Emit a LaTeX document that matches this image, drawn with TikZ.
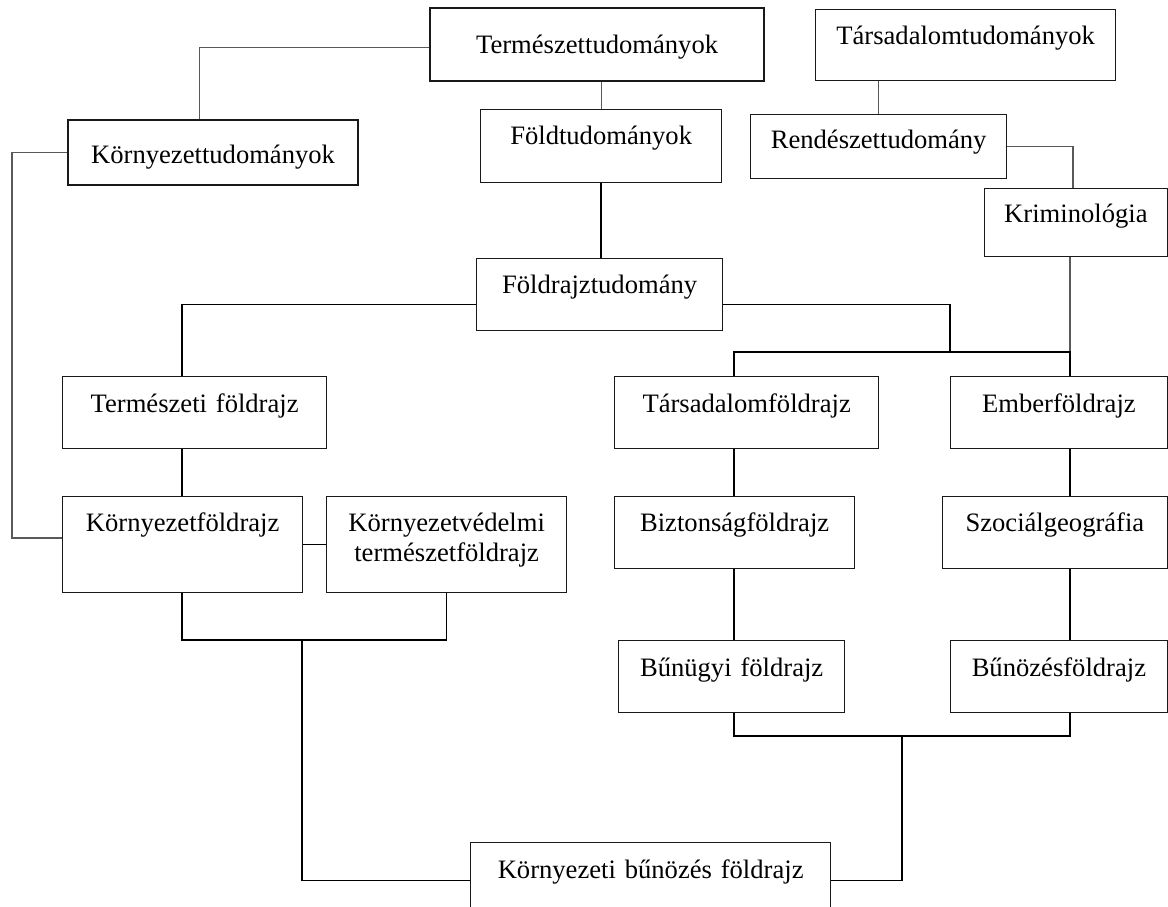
\documentclass[tikz,border=0pt]{standalone}
\usepackage{fontspec}
\setmainfont{Liberation Serif}
\begin{document}
\begin{tikzpicture}[x=1pt,y=-1pt,
  box/.style={draw=black!90, line width=1.3pt, inner sep=0pt, anchor=north west, align=center,
    font=\fontsize{26.6}{30}\selectfont},
  thickbox/.style={box, line width=2.2pt},
  line/.style={draw=black, line width=1.5pt},
  gline/.style={draw=black!65, line width=1.2pt}]
\clip (0,0) rectangle (1168,906);
\fill[white] (0,0) rectangle (1168,906);

\node[thickbox, text width=334pt, text height=45pt, text depth=28pt] (nat) at (429,7) {Természettudományok};
\node[box, text width=300pt, text height=35pt, text depth=36pt] (soc) at (815,9) {Társadalomtudományok};
\node[thickbox, text width=290pt, text height=43pt, text depth=22pt] (env) at (67,119) {Környezettudományok};
\node[box, text width=241pt, text height=35pt, text depth=38pt] (earth) at (480,109) {Földtudományok};
\node[box, text width=256pt, text height=34pt, text depth=30pt] (pol) at (750,114) {Rendészettudomány};
\node[box, text width=182.5pt, text height=34pt, text depth=34pt] (krim) at (984,188) {Kriminológia};
\node[box, text width=246pt, text height=35pt, text depth=37pt] (geo) at (476,258) {Földrajztudomány};
\node[box, text width=264pt, text height=36pt, text depth=36pt] (phys) at (62,376) {Természeti földrajz};
\node[box, text width=264pt, text height=36pt, text depth=36pt] (socg) at (614,376) {Társadalomföldrajz};
\node[box, text width=216.5pt, text height=36pt, text depth=36pt] (hum) at (950,376) {Emberföldrajz};
\node[box, text width=240pt, text height=35pt, text depth=61pt] (envg) at (62,496) {Környezetföldrajz};
\node[box, text width=240pt, text height=35pt, text depth=61pt] (envp) at (326,496) {Környezetvédelmi\\természetföldrajz};
\node[box, text width=240pt, text height=35pt, text depth=37pt] (sec) at (614,496) {Biztonságföldrajz};
\node[box, text width=224.5pt, text height=35pt, text depth=37pt] (socio) at (942,496) {Szociálgeográfia};
\node[box, text width=226pt, text height=36pt, text depth=36pt] (crim) at (618,640) {Bűnügyi földrajz};
\node[box, text width=216.5pt, text height=36pt, text depth=36pt] (crimg) at (950,640) {Bűnözésföldrajz};
\node[box, text width=360pt, text height=36pt, text depth=40pt] (final) at (470,842) {Környezeti bűnözés földrajz};

\coordinate (xl) at (182,0);
\coordinate (lk) at (12,538);
\coordinate (bL) at (734,352);
\coordinate (bR) at (1070,352);
\coordinate (bM) at (950,352);
\coordinate (j1) at (302,640);
\coordinate (j2) at (902,736);

% grey connectors
\draw[gline] ([yshift=-2.5pt]nat.west) -| ([xshift=-14pt]env.north);
\draw[gline] (env.west) -| (lk) -- (lk -| envg.west);
\draw[gline] (earth.north) -- (earth.north |- nat.south);
\draw[gline] (pol.north) -- (pol.north |- soc.south);
\draw[gline] (pol.east) -| ([xshift=-3pt]krim.north);
\draw[gline] (krim.south -| bR) -- (bR);

% black connectors
\draw[line] (earth.south) -- (earth.south |- geo.north);
\draw[line] ([yshift=-10pt]geo.east) -| (bM);
\draw[line] (socg.north -| bL) -- (bL) -- (bR) -- (hum.north -| bR);
\draw[line] ([yshift=-10pt]geo.west) -| (phys.north -| xl);
\draw[line] (phys.south -| xl) -- (envg.north -| xl);
\draw[line] (envg.east) -- (envp.west);
\draw[line] (envg.south -| xl) |- (j1) -| (envp.south);
\draw[line] (j1) |- (final.west);
\draw[line] (socg.south -| bL) -- (sec.north -| bL);
\draw[line] (hum.south -| bR) -- (socio.north -| bR);
\draw[line] (sec.south -| bL) -- (crim.north -| bL);
\draw[line] (socio.south -| bR) -- (crimg.north -| bR);
\draw[line] (crim.south -| bL) |- (j2) -- (j2 -| bR) -- (crimg.south -| bR);
\draw[line] (j2) |- (final.east);
\end{tikzpicture}
\end{document}
